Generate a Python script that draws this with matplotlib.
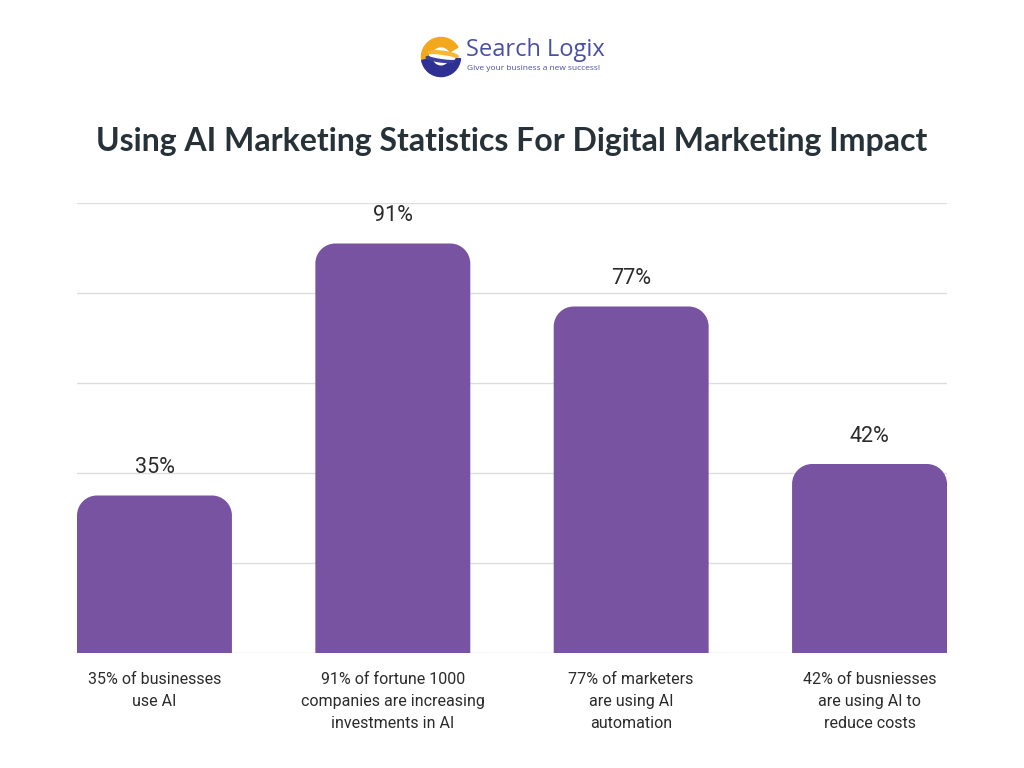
import numpy as np
import matplotlib.pyplot as plt
from matplotlib.path import Path
from matplotlib.patches import PathPatch, Wedge, Ellipse

# data
labels = ["35% of businesses\nuse AI",
          "91% of fortune 1000\ncompanies are increasing\ninvestments in AI",
          "77% of marketers\nare using AI\nautomation",
          "42% of busniesses\nare using AI to\nreduce costs"]
values = [35, 91, 77, 42]
value_text = ["35%", "91%", "77%", "42%"]

bar_color = "#7753A2"
text_color = "#2B2B2B"

fig = plt.figure(figsize=(10.24, 7.68), dpi=100)
ax = fig.add_axes([77/1024, 1-653/768, 870/1024, 450/768])

width = 0.65
x = np.arange(len(values))
ax.set_xlim(-width/2, len(values)-1+width/2)
ax.set_ylim(0, 100)

# px -> data units for the corner radius
px_x = (len(values)-1+width) / 870.0
px_y = 100 / 450.0
r = 20
rx, ry = r*px_x, r*px_y
k = 0.5523

def rounded_bar(xc, h):
    l, rgt = xc - width/2, xc + width/2
    verts = [(l, 0), (l, h-ry),
             (l, h-ry+k*ry), (l+rx-k*rx, h), (l+rx, h),
             (rgt-rx, h),
             (rgt-rx+k*rx, h), (rgt, h-ry+k*ry), (rgt, h-ry),
             (rgt, 0), (l, 0)]
    codes = [Path.MOVETO, Path.LINETO,
             Path.CURVE4, Path.CURVE4, Path.CURVE4,
             Path.LINETO,
             Path.CURVE4, Path.CURVE4, Path.CURVE4,
             Path.LINETO, Path.CLOSEPOLY]
    return PathPatch(Path(verts, codes), facecolor=bar_color, edgecolor="none", zorder=3)

for xi, v, t in zip(x, values, value_text):
    ax.add_patch(rounded_bar(xi, v))
    ax.text(xi, v + 5.0, t, ha="center", va="baseline", fontsize=15.5,
            color=text_color, family="Roboto")

for g in range(0, 101, 20):
    ax.axhline(g, color="#DDDDDD", lw=1, zorder=1)

for s in ax.spines.values():
    s.set_visible(False)
ax.set_xticks([])
ax.set_yticks([])

for xi, lab in zip(x, labels):
    ax.text(xi, -4.3, lab, ha="center", va="top", fontsize=11.5,
            color=text_color, family="Roboto", linespacing=1.55)

# title
fig.text(0.5, 1-141/768, "Using AI Marketing Statistics For Digital Marketing Impact",
         ha="center", va="center", fontsize=23.0, fontweight="bold",
         color="#263238", family="Lato")

# logo
lax = fig.add_axes([418/1024, 1-80/768, 46/1024, 46/768])
lax.set_xlim(-1, 1)
lax.set_ylim(-1, 1)
lax.set_aspect("equal")
lax.axis("off")
lax.add_patch(Wedge((0, 0.0), 0.85, 30, 195, width=0.4, color="#F2A81D"))
lax.add_patch(Wedge((0, 0.0), 0.85, 190, 355, width=0.45, color="#2E3192"))
lax.add_patch(Ellipse((0.1, 0.12), 1.3, 0.25, angle=-8, color="#F7B733"))
lax.add_patch(Ellipse((-0.05, -0.1), 1.2, 0.22, angle=-8, color="#3B3F99"))
lax.add_patch(Ellipse((0.05, 0.0), 1.1, 0.12, angle=-8, color="white"))
fig.text(466/1024, 1-50/768, "Search Logix", ha="left", va="center",
         fontsize=17, color="#4A4FA3", family="Open Sans")
fig.text(467/1024, 1-69/768, "Give your business a new success!", ha="left", va="center",
         fontsize=6, color="#4A4FA3", family="Open Sans")

fig.savefig("out.png", dpi=100)
